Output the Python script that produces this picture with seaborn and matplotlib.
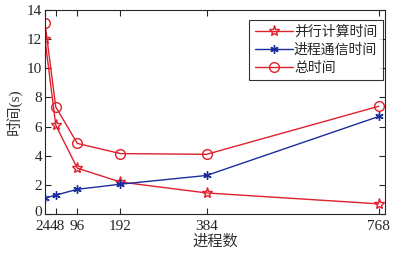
import matplotlib
matplotlib.use("Agg")
import matplotlib.pyplot as plt
import matplotlib.transforms as mtransforms
import pandas as pd
import seaborn as sns

# --- Data
procs = [24, 48, 96, 192, 384, 768]
compute_time = [12.0, 6.1, 3.15, 2.2, 1.45, 0.7]
comm_time = [1.1, 1.3, 1.7, 2.05, 2.65, 6.7]
total_time = [13.1, 7.35, 4.85, 4.15, 4.1, 7.4]
series_names = ["并行计算时间", "进程通信时间", "总时间"]

sns.set_style("ticks")
plt.rcParams["font.family"] = ["Liberation Serif", "Noto Sans CJK SC"]
plt.rcParams["xtick.direction"] = "in"
plt.rcParams["ytick.direction"] = "in"

red = "#e0202c"
blue = "#1a2d9c"
styles = [
    (compute_time, red, "*", 8),
    (comm_time, blue, (6, 2, 0), 6),
    (total_time, red, "o", 7),
]

fig = plt.figure(figsize=(3.96, 2.57), dpi=100)
ax = fig.add_axes([0.1136, 0.167, 0.858, 0.794])

for name, (vals, color, marker, ms) in zip(series_names, styles):
    sub = pd.DataFrame({"procs": procs, "time": vals})
    sns.lineplot(
        data=sub,
        x="procs",
        y="time",
        color=color,
        marker=marker,
        markersize=ms,
        markerfacecolor="none",
        markeredgecolor=color,
        markeredgewidth=1.0,
        linewidth=1.0,
        label=name,
        ax=ax,
    )

ax.set_xlim(24, 781)
ax.set_ylim(0, 14)
ax.set_xticks(procs)
ax.set_xticklabels([str(p) for p in procs])
ax.set_yticks(range(0, 15, 2))
ax.tick_params(axis="both", labelsize=11, length=4, width=0.8,
               top=True, right=True)
ax.tick_params(axis="x", pad=4)
ax.tick_params(axis="y", pad=2)
for s in ax.spines.values():
    s.set_linewidth(0.8)
    s.set_visible(True)


def nudge(label, dx_pt, dy_pt):
    label.set_transform(label.get_transform()
                        + mtransforms.ScaledTranslation(dx_pt / 72, dy_pt / 72,
                                                        fig.dpi_scale_trans))


# the 24 and 48 labels sit almost on top of each other; nudge them apart a bit
xlabels = ax.get_xticklabels()
nudge(xlabels[0], -1.5, 0)
nudge(xlabels[1], 1.5, 0)
# keep the y "0" clear of the "24" below it
nudge(ax.get_yticklabels()[0], 0, 2)

ax.set_xlabel("进程数", fontsize=11, color="#333333", labelpad=1)
ax.set_ylabel("时间(s)", fontsize=11, color="#333333", labelpad=4)

leg = ax.legend(
    loc="upper right",
    bbox_to_anchor=(0.994, 0.951),
    borderaxespad=0,
    fontsize=10,
    frameon=True,
    fancybox=False,
    edgecolor="black",
    handlelength=2.7,
    borderpad=0.4,
    labelspacing=0.35,
    handletextpad=0.1,
)
leg.get_frame().set_linewidth(0.8)

fig.savefig("out.png", dpi=100)
